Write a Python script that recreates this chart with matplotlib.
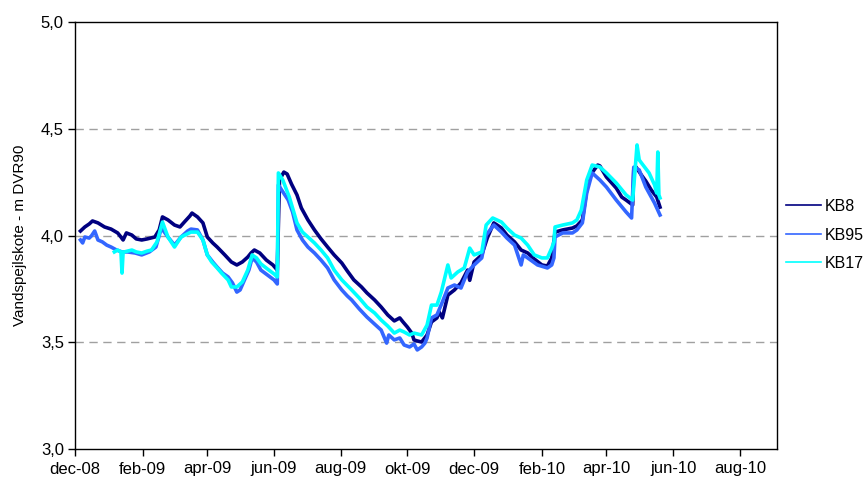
import matplotlib
matplotlib.use("Agg")
import matplotlib.pyplot as plt
from matplotlib.lines import Line2D
import pandas as pd

plt.rcParams['font.family'] = ['Liberation Sans', 'DejaVu Sans']

# ---------------- data ----------------
kb8_dates = ["2008-12-06","2008-12-10","2008-12-14","2008-12-17","2008-12-22","2008-12-28",
 "2009-01-03","2009-01-09","2009-01-12","2009-01-14","2009-01-17","2009-01-22","2009-01-26","2009-01-31",
 "2009-02-05","2009-02-12","2009-02-16","2009-02-19","2009-02-24","2009-03-02","2009-03-07","2009-03-11",
 "2009-03-16","2009-03-18","2009-03-23","2009-03-28","2009-04-01","2009-04-06","2009-04-10","2009-04-17",
 "2009-04-23","2009-04-28","2009-05-03","2009-05-08","2009-05-11","2009-05-14","2009-05-19","2009-05-25",
 "2009-05-31","2009-06-04","2009-06-06","2009-06-10","2009-06-13","2009-06-17","2009-06-22","2009-06-26",
 "2009-07-02","2009-07-08","2009-07-14","2009-07-20","2009-07-26","2009-08-02","2009-08-07","2009-08-13",
 "2009-08-20","2009-08-25","2009-09-01","2009-09-07","2009-09-13","2009-09-19","2009-09-24","2009-09-27",
 "2009-10-01","2009-10-05","2009-10-07","2009-10-10","2009-10-14","2009-10-19","2009-10-23","2009-10-28",
 "2009-10-30","2009-11-02","2009-11-07","2009-11-13","2009-11-19","2009-11-25","2009-11-27","2009-12-01",
 "2009-12-08","2009-12-13","2009-12-19","2009-12-22","2009-12-26","2009-12-31","2010-01-07","2010-01-13",
 "2010-01-19","2010-01-25","2010-02-01","2010-02-06","2010-02-10","2010-02-13","2010-02-20","2010-03-01",
 "2010-03-05","2010-03-10","2010-03-14","2010-03-16","2010-03-24","2010-03-26","2010-04-01","2010-04-10",
 "2010-04-15","2010-04-19","2010-04-25","2010-04-26","2010-04-28","2010-05-03","2010-05-07","2010-05-12",
 "2010-05-17","2010-05-20"]
kb8 = [4.021,4.040,4.054,4.068,4.059,4.040,
 4.030,4.012,3.993,3.979,4.012,4.002,3.984,3.979,
 3.984,3.993,4.026,4.087,4.073,4.049,4.040,4.063,
 4.091,4.105,4.087,4.059,3.993,3.965,3.946,3.909,
 3.876,3.862,3.876,3.899,3.918,3.932,3.918,3.885,
 3.862,3.838,4.260,4.297,4.288,4.241,4.190,4.129,
 4.073,4.026,3.984,3.946,3.909,3.871,3.834,3.792,
 3.759,3.731,3.698,3.665,3.628,3.600,3.614,3.595,
 3.571,3.543,3.511,3.506,3.501,3.534,3.595,3.614,
 3.642,3.614,3.721,3.745,3.778,3.838,3.790,3.876,
 3.909,3.988,4.059,4.049,4.035,4.002,3.970,3.932,
 3.918,3.890,3.862,3.857,3.895,4.016,4.026,4.035,
 4.045,4.073,4.213,4.274,4.330,4.326,4.274,4.222,
 4.180,4.166,4.143,4.307,4.321,4.283,4.255,4.213,
 4.180,4.133]

kb95_dates = ["2008-12-06","2008-12-08","2008-12-10","2008-12-14","2008-12-16","2008-12-19","2008-12-22",
 "2008-12-26","2008-12-30","2009-01-03","2009-01-08","2009-01-13","2009-01-18","2009-01-25","2009-01-31",
 "2009-02-07","2009-02-13","2009-02-18","2009-02-24","2009-03-02","2009-03-08","2009-03-14","2009-03-17",
 "2009-03-23","2009-03-28","2009-04-01","2009-04-06","2009-04-10","2009-04-15","2009-04-20","2009-04-24",
 "2009-04-28","2009-05-01","2009-05-05","2009-05-09","2009-05-12","2009-05-16","2009-05-20","2009-05-26",
 "2009-06-01","2009-06-04","2009-06-05","2009-06-08","2009-06-14","2009-06-18","2009-06-22","2009-06-27",
 "2009-07-02","2009-07-08","2009-07-14","2009-07-20","2009-07-26","2009-08-02","2009-08-07","2009-08-11",
 "2009-08-18","2009-08-25","2009-09-01","2009-09-07","2009-09-12","2009-09-14","2009-09-19","2009-09-24",
 "2009-09-28","2009-10-03","2009-10-07","2009-10-10","2009-10-14","2009-10-17","2009-10-19","2009-10-23",
 "2009-10-28","2009-11-02","2009-11-07","2009-11-13","2009-11-19","2009-11-25","2009-12-01","2009-12-08",
 "2009-12-12","2009-12-19","2009-12-26","2009-12-31","2010-01-07","2010-01-13","2010-01-15","2010-01-19",
 "2010-01-28","2010-02-06","2010-02-10","2010-02-12","2010-02-13","2010-02-20","2010-03-01","2010-03-05",
 "2010-03-10","2010-03-14","2010-03-19","2010-03-26","2010-04-01","2010-04-10","2010-04-19","2010-04-24",
 "2010-04-26","2010-05-01","2010-05-07","2010-05-15","2010-05-20"]
kb95 = [3.979,3.965,3.993,3.988,3.998,4.021,3.979,
 3.970,3.955,3.946,3.932,3.923,3.923,3.918,3.909,
 3.923,3.946,4.035,3.993,3.955,3.993,4.021,4.030,
 4.026,3.979,3.909,3.876,3.852,3.824,3.806,3.778,
 3.735,3.745,3.792,3.838,3.895,3.876,3.838,3.815,
 3.792,3.773,4.237,4.213,4.166,4.110,4.026,3.979,
 3.946,3.918,3.885,3.848,3.792,3.745,3.717,3.698,
 3.656,3.618,3.585,3.557,3.496,3.534,3.511,3.520,
 3.487,3.478,3.492,3.464,3.478,3.496,3.520,3.614,
 3.628,3.689,3.754,3.768,3.754,3.829,3.862,3.895,
 4.002,4.049,4.016,3.988,3.955,3.862,3.909,3.895,
 3.862,3.848,3.862,3.895,3.993,4.012,4.012,4.026,
 4.059,4.199,4.293,4.260,4.227,4.166,4.110,4.082,
 4.320,4.307,4.227,4.152,4.096]

kb17_dates = ["2009-01-06","2009-01-09","2009-01-12","2009-01-13","2009-01-14","2009-01-15","2009-01-22",
 "2009-01-26","2009-01-31","2009-02-05","2009-02-09","2009-02-14","2009-02-19","2009-02-24","2009-03-02",
 "2009-03-08","2009-03-17","2009-03-23","2009-03-28","2009-04-01","2009-04-05","2009-04-10","2009-04-14",
 "2009-04-20","2009-04-23","2009-04-28","2009-05-03","2009-05-08","2009-05-12","2009-05-16","2009-05-20",
 "2009-05-26","2009-06-01","2009-06-04","2009-06-05","2009-06-09","2009-06-15","2009-06-22","2009-06-27",
 "2009-07-02","2009-07-08","2009-07-14","2009-07-20","2009-07-26","2009-08-02","2009-08-11","2009-08-18",
 "2009-08-25","2009-09-01","2009-09-07","2009-09-13","2009-09-19","2009-09-24","2009-09-28","2009-10-03",
 "2009-10-07","2009-10-14","2009-10-19","2009-10-23","2009-10-28","2009-11-01","2009-11-07","2009-11-10",
 "2009-11-16","2009-11-22","2009-11-27","2009-12-01","2009-12-08","2009-12-12","2009-12-18","2009-12-26",
 "2009-12-31","2010-01-07","2010-01-13","2010-01-19","2010-01-25","2010-02-01","2010-02-06","2010-02-10",
 "2010-02-12","2010-02-13","2010-02-20","2010-03-01","2010-03-05","2010-03-09","2010-03-14","2010-03-19",
 "2010-03-26","2010-04-01","2010-04-10","2010-04-19","2010-04-25","2010-04-27","2010-04-29","2010-05-01",
 "2010-05-03","2010-05-10","2010-05-15","2010-05-17","2010-05-18","2010-05-19","2010-05-20"]
kb17 = [3.923,3.932,3.923,3.824,3.923,3.923,3.932,
 3.923,3.918,3.927,3.932,3.970,4.063,3.993,3.946,
 3.993,4.016,4.016,3.979,3.909,3.876,3.848,3.824,
 3.792,3.759,3.759,3.782,3.838,3.909,3.895,3.867,
 3.843,3.820,3.806,4.293,4.260,4.180,4.059,4.016,
 3.993,3.965,3.932,3.895,3.838,3.792,3.745,3.707,
 3.665,3.637,3.604,3.576,3.543,3.557,3.548,3.534,
 3.543,3.534,3.581,3.674,3.674,3.735,3.862,3.801,
 3.829,3.848,3.941,3.909,3.923,4.049,4.082,4.063,
 4.035,4.002,3.988,3.955,3.909,3.895,3.895,3.941,
 3.970,4.040,4.049,4.059,4.073,4.119,4.260,4.330,
 4.321,4.293,4.246,4.190,4.166,4.293,4.424,4.354,
 4.340,4.293,4.237,4.199,4.391,4.190,4.176]

series_names = ["KB8", "KB95", "KB17"]
series_colors = ["#000080", "#3366FF", "#00FFFF"]

x_tick_dates = ["2008-12-01","2009-02-01","2009-04-01","2009-06-01","2009-08-01","2009-10-01",
                "2009-12-01","2010-02-01","2010-04-01","2010-06-01","2010-08-01"]
x_tick_labels = ["dec-08","feb-09","apr-09","jun-09","aug-09","okt-09",
                 "dec-09","feb-10","apr-10","jun-10","aug-10"]
y_ticks = [3.0, 3.5, 4.0, 4.5, 5.0]
y_tick_labels = ["3,0", "3,5", "4,0", "4,5", "5,0"]
y_label = "Vandspejlskote - m DVR90"

# ---------------- figure ----------------
fig = plt.figure(figsize=(8.67, 4.83), dpi=100)
ax = fig.add_axes([75/867, 34/483, 702/867, 427/483])

data = [(kb8_dates, kb8), (kb95_dates, kb95), (kb17_dates, kb17)]
for (d, v), name, col in zip(data, series_names, series_colors):
    ax.plot(pd.to_datetime(d), v, color=col, lw=2.6, zorder=3)

ax.set_xlim(pd.Timestamp("2008-12-01"), pd.Timestamp("2010-09-04"))
ax.set_ylim(3.0, 5.0)

ax.set_xticks(pd.to_datetime(x_tick_dates))
ax.set_xticklabels(x_tick_labels)
ax.set_yticks(y_ticks)
ax.set_yticklabels(y_tick_labels)

for yv in y_ticks[1:-1]:
    ax.axhline(yv, color="#A0A0A0", lw=1.0, ls=(0, (6, 4)), zorder=1)

for s in ax.spines.values():
    s.set_color("black")
    s.set_linewidth(1.0)

ax.tick_params(axis='both', direction='out', length=5, width=1, color='black',
               labelsize=12, labelcolor='black')
ax.tick_params(axis='x', pad=4)
ax.tick_params(axis='y', pad=3)
ax.set_ylabel(y_label, fontsize=11, labelpad=10)

handles = [Line2D([0], [0], color=c, lw=1.2) for c in series_colors]
fig.legend(handles, series_names, loc='center left', bbox_to_anchor=(786/867, 1 - 235/483),
           frameon=False, fontsize=11.5, handlelength=2.2, handletextpad=0.25,
           labelspacing=0.85, borderaxespad=0, borderpad=0)

fig.savefig("out.png", dpi=100, facecolor="white")
